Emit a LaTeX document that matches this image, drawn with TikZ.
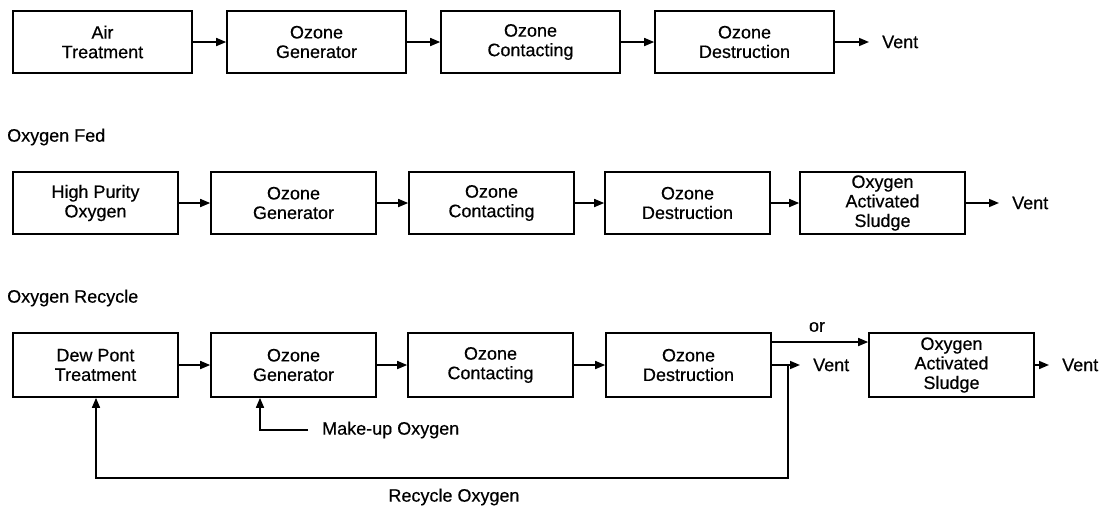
\documentclass[tikz,border=0pt]{standalone}
\usepackage{fontspec}
\setmainfont{Liberation Sans}[FakeBold=0.4]
\usetikzlibrary{arrows.meta}
\begin{document}
\begin{tikzpicture}[x=1pt,y=-1pt,
  every node/.style={font=\fontsize{18}{19.5}\selectfont},
  boxA/.style={draw,line width=1.6pt,minimum width=179pt,minimum height=62pt,inner sep=0pt,align=center},
  boxB/.style={draw,line width=1.6pt,minimum width=165pt,minimum height=62pt,inner sep=0pt,align=center},
  boxC/.style={draw,line width=1.6pt,minimum width=165pt,minimum height=64pt,inner sep=0pt,align=center},
  lbl/.style={inner sep=0pt,anchor=west},
  arr/.style={line width=1.6pt,-{Triangle[length=10pt,width=8pt]}},
  vent/.style={arr,shorten >=13pt}]
\useasboundingbox[fill=white] (0,0) rectangle (1105,507);
% Row 1
\node[boxA] (a1) at (102.5,42) {Air\\Treatment};
\node[boxA] (a2) at (316.5,42) {Ozone\\Generator};
\node[boxA] (a3) at (530.5,42) {Ozone\\Contacting};
\node[boxA] (a4) at (744.5,42) {Ozone\\Destruction};
\node[lbl] (v1) at (882,42) {Vent};
\draw[arr] (a1) -- (a2);
\draw[arr] (a2) -- (a3);
\draw[arr] (a3) -- (a4);
\draw[vent] (a4) -- (v1);
% Row 2
\node[lbl] (t2) at (7,137) {Oxygen Fed};
\node[boxB] (b1) at (95.5,203) {High Purity\\Oxygen};
\node[boxB] (b2) at (293.5,203) {Ozone\\Generator};
\node[boxB] (b3) at (491.5,203) {Ozone\\Contacting};
\node[boxB] (b4) at (687.5,203) {Ozone\\Destruction};
\node[boxB] (b5) at (882.5,203) {Oxygen\\Activated\\Sludge};
\node[lbl] (v2) at (1012,203) {Vent};
\draw[arr] (b1) -- (b2);
\draw[arr] (b2) -- (b3);
\draw[arr] (b3) -- (b4);
\draw[arr] (b4) -- (b5);
\draw[vent] (b5) -- (v2);
% Row 3
\node[lbl] (t3) at (7,298) {Oxygen Recycle};
\node[boxC] (c1) at (95.5,365) {Dew Pont\\Treatment};
\node[boxC] (c2) at (293.5,365) {Ozone\\Generator};
\node[boxC] (c3) at (490.5,365) {Ozone\\Contacting};
\node[boxC] (c4) at (688.5,365) {Ozone\\Destruction};
\node[boxC] (c5) at (951.5,365) {Oxygen\\Activated\\Sludge};
\node[lbl] (v3) at (813,365) {Vent};
\node[lbl] (v4) at (1062,365) {Vent};
\node[inner sep=0pt] (or) at (817,327) {or};
\draw[arr] (c1) -- (c2);
\draw[arr] (c2) -- (c3);
\draw[arr] (c3) -- (c4);
\draw[arr] ([yshift=23pt]c4.east) -- ([yshift=23pt]c5.west);
\draw[vent] (c4) -- (v3);
\draw[vent] (c5) -- (v4);
% Make-up oxygen
\node[lbl] (mt) at (322,430) {Make-up Oxygen};
\coordinate (mu) at (308,430);
\coordinate (mx) at (260,430);
\draw[arr] (mu) -- (mx) -- (mx |- c2.south);
% Recycle
\coordinate (rc) at (788,478);
\coordinate (rx) at (96,478);
\draw[arr] (rc |- c4.east) -- (rc) -- (rx) -- (rx |- c1.south);
\node[inner sep=0pt] (rt) at (454,497) {Recycle Oxygen};
\end{tikzpicture}
\end{document}
